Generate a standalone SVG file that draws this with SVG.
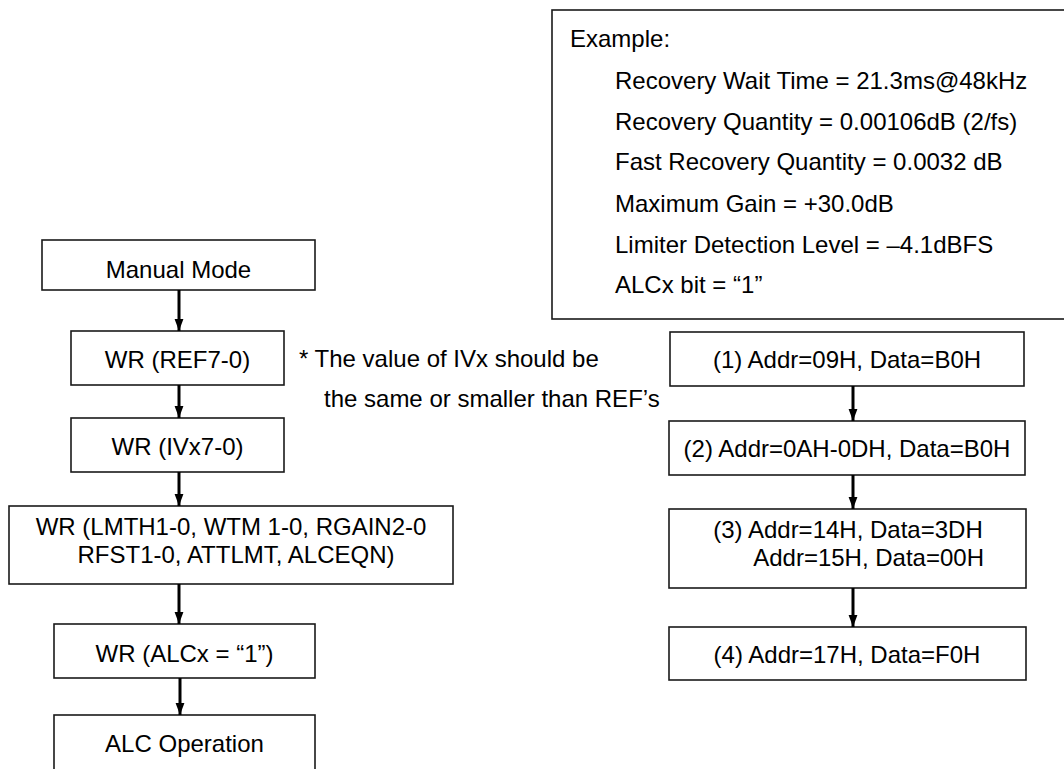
<svg xmlns="http://www.w3.org/2000/svg" width="1064" height="769" viewBox="0 0 1064 769">
  <style>
    text { font-family: "Liberation Sans", Arial, sans-serif; font-size: 24px; fill: #000; }
    .box { fill: #fff; stroke: #1a1a1a; stroke-width: 1.6; }
    .c { text-anchor: middle; }
    .e { text-anchor: end; }
    .flow { stroke: #000; stroke-width: 3; fill: none; }
  </style>
  <defs>
    <marker id="head" markerUnits="userSpaceOnUse" markerWidth="12" markerHeight="12" refX="15" refY="6" orient="auto" viewBox="0 0 15 12" overflow="visible">
      <polygon points="0,0.5 15,6 0,11.5" fill="#000"/>
    </marker>
  </defs>

  <!-- example settings panel -->
  <g id="example">
    <rect class="box" x="552" y="10" width="520" height="309" stroke-width="2"/>
    <text x="570" y="47">Example:</text>
    <text x="615" y="89">Recovery Wait Time = 21.3ms@48kHz</text>
    <text x="615" y="130">Recovery Quantity = 0.00106dB (2/fs)</text>
    <text x="615" y="170">Fast Recovery Quantity = 0.0032 dB</text>
    <text x="615" y="212">Maximum Gain = +30.0dB</text>
    <text x="615" y="253">Limiter Detection Level = &#8211;4.1dBFS</text>
    <text x="615" y="293">ALCx bit = &#8220;1&#8221;</text>
  </g>

  <!-- left flow -->
  <g id="manual-mode">
    <rect class="box" x="42" y="240" width="273" height="50"/>
    <text class="c" x="178.5" y="278">Manual Mode</text>
  </g>
  <g id="wr-ref">
    <rect class="box" x="71" y="331" width="213" height="54"/>
    <text class="c" x="177.5" y="368">WR (REF7-0)</text>
  </g>
  <g id="note">
    <text x="299" y="367">* The value of IVx should be</text>
    <text x="324" y="407">the same or smaller than REF&#8217;s</text>
  </g>
  <g id="wr-ivx">
    <rect class="box" x="71" y="418" width="213" height="54"/>
    <text class="c" x="177.5" y="455">WR (IVx7-0)</text>
  </g>
  <g id="wr-params">
    <rect class="box" x="9" y="506" width="444" height="78"/>
    <text class="c" x="231" y="535">WR (LMTH1-0, WTM 1-0, RGAIN2-0</text>
    <text class="c" x="236" y="563">RFST1-0, ATTLMT, ALCEQN)</text>
  </g>
  <g id="wr-alcx">
    <rect class="box" x="54" y="624" width="261" height="54"/>
    <text class="c" x="184.5" y="662">WR (ALCx = &#8220;1&#8221;)</text>
  </g>
  <g id="alc-operation">
    <rect class="box" x="54" y="715" width="261" height="70"/>
    <text class="c" x="184.5" y="752">ALC Operation</text>
  </g>

  <!-- right flow -->
  <g id="step1">
    <rect class="box" x="670" y="332" width="354" height="54"/>
    <text class="c" x="847" y="368">(1) Addr=09H, Data=B0H</text>
  </g>
  <g id="step2">
    <rect class="box" x="669" y="421" width="356" height="54"/>
    <text class="c" x="847" y="457">(2) Addr=0AH-0DH, Data=B0H</text>
  </g>
  <g id="step3">
    <rect class="box" x="669" y="509" width="357" height="79"/>
    <text class="c" x="848" y="538">(3) Addr=14H, Data=3DH</text>
    <text class="e" x="984" y="566">Addr=15H, Data=00H</text>
  </g>
  <g id="step4">
    <rect class="box" x="669" y="627" width="357" height="53"/>
    <text class="c" x="847" y="663">(4) Addr=17H, Data=F0H</text>
  </g>

  <!-- connectors -->
  <g id="connectors">
    <line class="flow" x1="179" y1="290" x2="179" y2="331" marker-end="url(#head)"/>
    <line class="flow" x1="179" y1="385" x2="179" y2="418" marker-end="url(#head)"/>
    <line class="flow" x1="179" y1="472" x2="179" y2="506" marker-end="url(#head)"/>
    <line class="flow" x1="179" y1="584" x2="179" y2="624" marker-end="url(#head)"/>
    <line class="flow" x1="180" y1="678" x2="180" y2="715" marker-end="url(#head)"/>
    <line class="flow" x1="853" y1="386" x2="853" y2="421" marker-end="url(#head)"/>
    <line class="flow" x1="853" y1="475" x2="853" y2="509" marker-end="url(#head)"/>
    <line class="flow" x1="853" y1="588" x2="853" y2="627" marker-end="url(#head)"/>
  </g>
</svg>
